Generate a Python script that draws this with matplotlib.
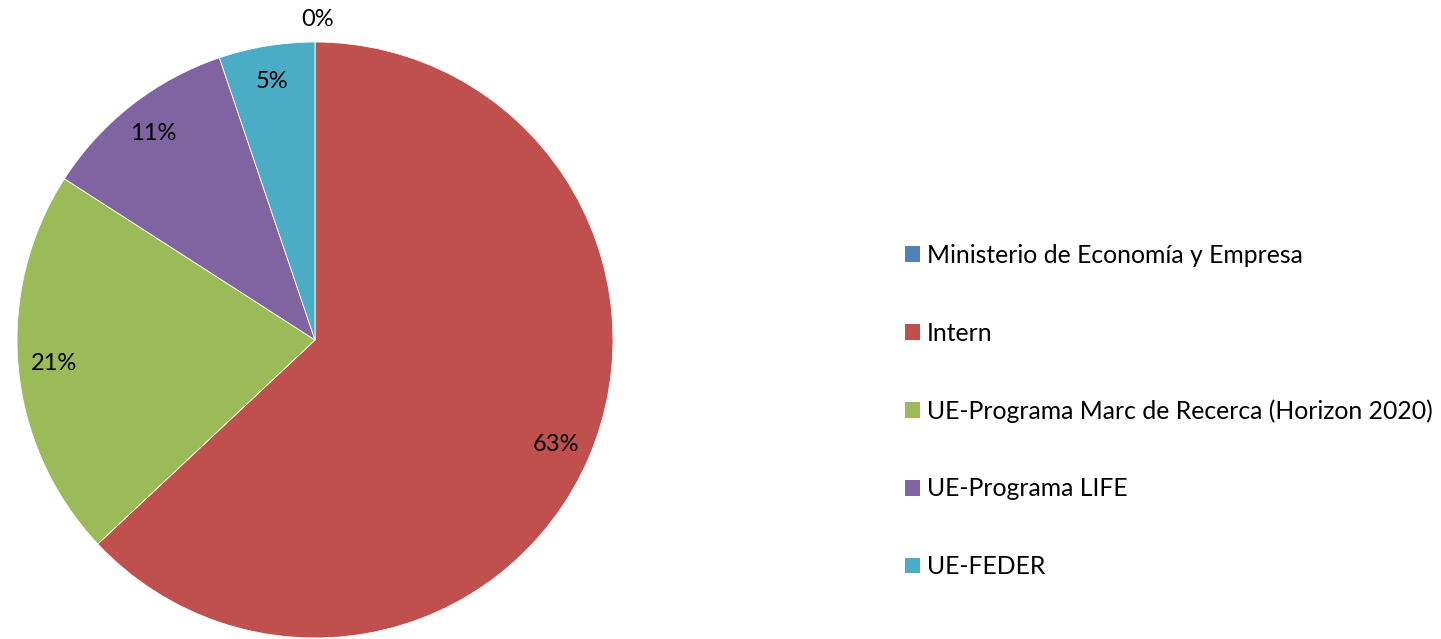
import matplotlib
matplotlib.use("Agg")
import matplotlib.pyplot as plt
from matplotlib.patches import Patch

categories = ["Ministerio de Economía y Empresa", "Intern",
              "UE-Programa Marc de Recerca (Horizon 2020)",
              "UE-Programa LIFE", "UE-FEDER"]
values = [0.0, 63.0, 21.1, 10.7, 5.2]
colors = ["#4F81BD", "#C0504D", "#9BBB59", "#8064A2", "#4BACC6"]

plt.rcParams['font.family'] = ['Lato', 'DejaVu Sans']
FS = 17
LFS = 17.8

W, H = 1441, 639
fig = plt.figure(figsize=(W / 100, H / 100), dpi=100)
cx, cy, r = 315, 340, 298
ax = fig.add_axes([(cx - r) / W, (H - cy - r) / H, 2 * r / W, 2 * r / H])
wedges, texts, autotexts = ax.pie(
    values, colors=colors, startangle=90, counterclock=False, radius=1,
    autopct=lambda p: f"{p:.0f}%", pctdistance=0.88,
    wedgeprops=dict(edgecolor="white", linewidth=0.6),
    textprops=dict(fontsize=FS, color="black"))
autotexts[0].set_position((0.01, 1.075))
wedges[0].set_linewidth(0)
ax.set_xlim(-1, 1)
ax.set_ylim(-1, 1)
ax.set_aspect("equal")
ax.axis("off")

handles = [Patch(facecolor=c, edgecolor="none") for c in colors]
fig.legend(handles, categories, loc="center left",
           bbox_to_anchor=(895 / W, 1 - 411 / H), frameon=False,
           fontsize=LFS, handlelength=0.6, handleheight=0.6,
           handletextpad=0.3, labelspacing=2.21, borderaxespad=0)

fig.savefig("out.png", dpi=100)
